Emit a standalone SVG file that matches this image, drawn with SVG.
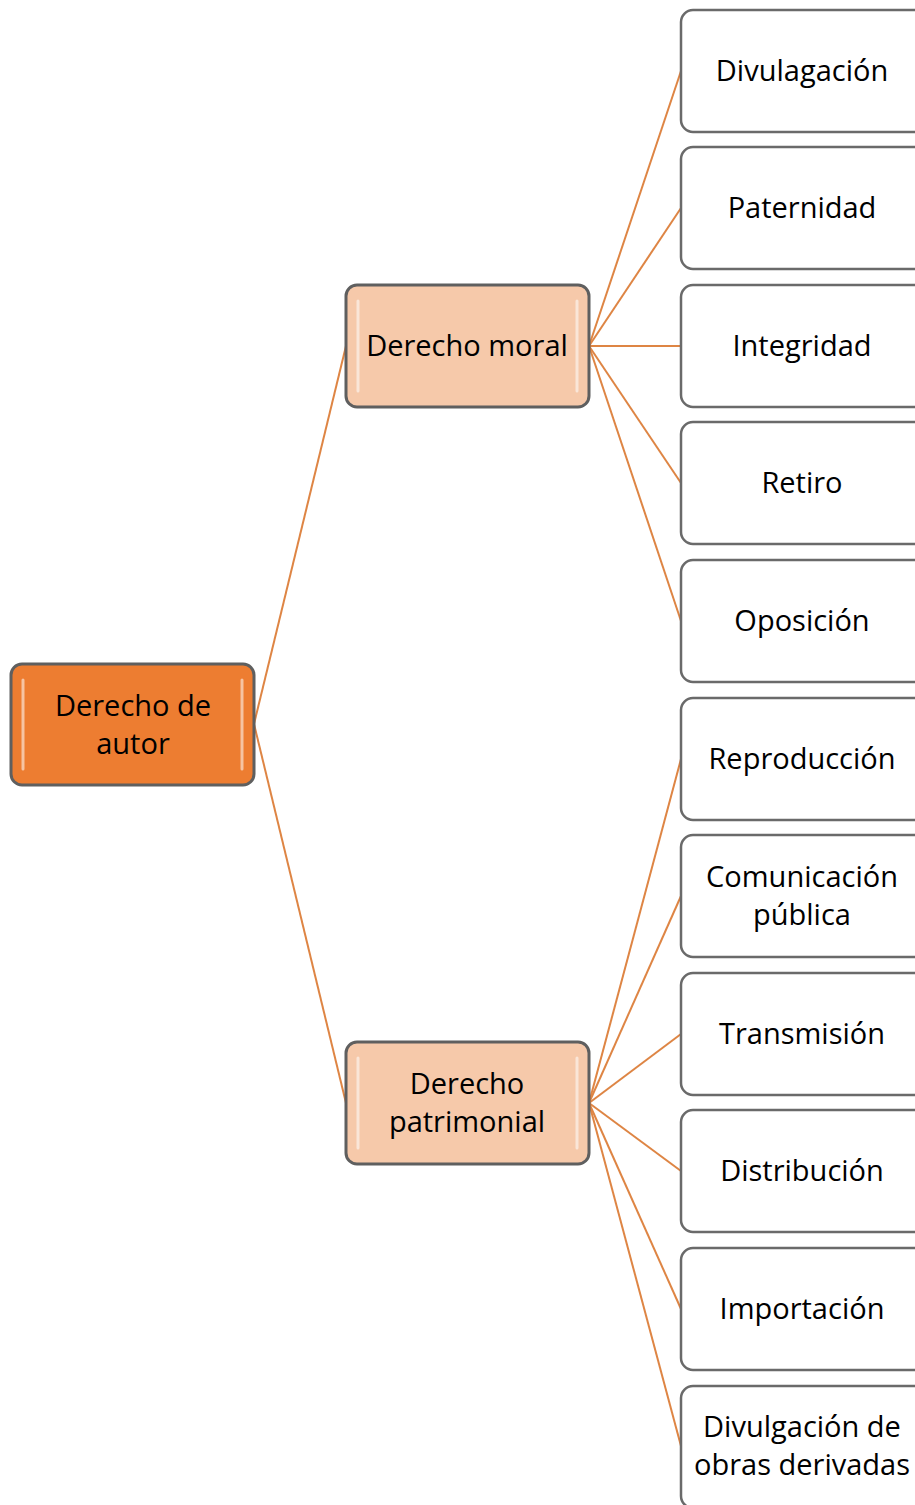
<svg xmlns="http://www.w3.org/2000/svg" width="915" height="1505" viewBox="0 0 915 1505">
<defs>
<style>
.c{stroke:#DE8544;stroke-width:2;fill:none}
.box{stroke:#5f5f5f;stroke-width:3}
.root{fill:#ED7D31}
.mid{fill:#F6C9AA}
.leaf{fill:#fff;stroke:#6a6a6a;stroke-width:2.5}
.gl{stroke:#fff;stroke-width:3;stroke-linecap:round;opacity:.55}
text{font-family:"Open Sans","Noto Sans","Liberation Sans",sans-serif;font-size:29px;fill:#000;text-anchor:middle}
</style>
</defs>
<g id="connectors">
<line class="c" x1="254" y1="724" x2="346" y2="346"/>
<line class="c" x1="254" y1="724" x2="346" y2="1103"/>
<line class="c" x1="589" y1="346" x2="681" y2="71"/>
<line class="c" x1="589" y1="346" x2="681" y2="208"/>
<line class="c" x1="589" y1="346" x2="681" y2="346"/>
<line class="c" x1="589" y1="346" x2="681" y2="483"/>
<line class="c" x1="589" y1="346" x2="681" y2="621"/>
<line class="c" x1="589" y1="1103" x2="681" y2="759"/>
<line class="c" x1="589" y1="1103" x2="681" y2="896"/>
<line class="c" x1="589" y1="1103" x2="681" y2="1034"/>
<line class="c" x1="589" y1="1103" x2="681" y2="1171"/>
<line class="c" x1="589" y1="1103" x2="681" y2="1309"/>
<line class="c" x1="589" y1="1103" x2="681" y2="1446"/>
</g>
<g id="root">
<rect class="box root" x="11" y="664" width="243" height="121" rx="11"/>
<line class="gl" x1="23" y1="680" x2="23" y2="769"/>
<line class="gl" x1="242" y1="680" x2="242" y2="769"/>
<text x="133" y="716">Derecho de</text>
<text x="133" y="754">autor</text>
</g>
<g id="moral">
<rect class="box mid" x="346" y="285" width="243" height="122" rx="11"/>
<line class="gl" x1="358" y1="301" x2="358" y2="391"/>
<line class="gl" x1="577" y1="301" x2="577" y2="391"/>
<text x="467" y="356">Derecho moral</text>
</g>
<g id="patrimonial">
<rect class="box mid" x="346" y="1042" width="243" height="122" rx="11"/>
<line class="gl" x1="358" y1="1058" x2="358" y2="1148"/>
<line class="gl" x1="577" y1="1058" x2="577" y2="1148"/>
<text x="467" y="1094">Derecho</text>
<text x="467" y="1132">patrimonial</text>
</g>
<g id="divulgacion"><rect class="leaf" x="681" y="10" width="245" height="122" rx="12"/><text x="802" y="81">Divulagación</text></g>
<g id="paternidad"><rect class="leaf" x="681" y="147" width="245" height="122" rx="12"/><text x="802" y="218">Paternidad</text></g>
<g id="integridad"><rect class="leaf" x="681" y="285" width="245" height="122" rx="12"/><text x="802" y="356">Integridad</text></g>
<g id="retiro"><rect class="leaf" x="681" y="422" width="245" height="122" rx="12"/><text x="802" y="493">Retiro</text></g>
<g id="oposicion"><rect class="leaf" x="681" y="560" width="245" height="122" rx="12"/><text x="802" y="631">Oposición</text></g>
<g id="reproduccion"><rect class="leaf" x="681" y="698" width="245" height="122" rx="12"/><text x="802" y="769">Reproducción</text></g>
<g id="comunicacion"><rect class="leaf" x="681" y="835" width="245" height="122" rx="12"/><text x="802" y="887">Comunicación</text><text x="802" y="925">pública</text></g>
<g id="transmision"><rect class="leaf" x="681" y="973" width="245" height="122" rx="12"/><text x="802" y="1044">Transmisión</text></g>
<g id="distribucion"><rect class="leaf" x="681" y="1110" width="245" height="122" rx="12"/><text x="802" y="1181">Distribución</text></g>
<g id="importacion"><rect class="leaf" x="681" y="1248" width="245" height="122" rx="12"/><text x="802" y="1319">Importación</text></g>
<g id="obras-derivadas"><rect class="leaf" x="681" y="1386" width="245" height="122" rx="12"/><text x="802" y="1437">Divulgación de</text><text x="802" y="1475">obras derivadas</text></g>
</svg>
